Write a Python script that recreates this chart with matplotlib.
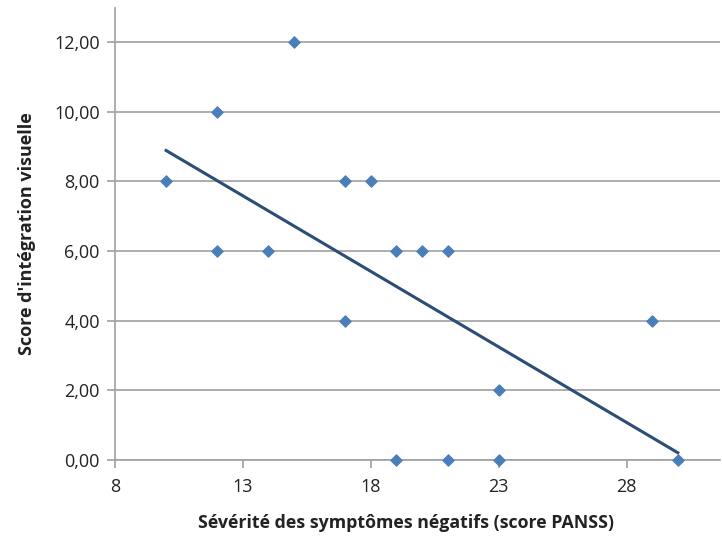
import numpy as np
import matplotlib
matplotlib.use("Agg")
import matplotlib.pyplot as plt
from matplotlib.ticker import FuncFormatter

plt.rcParams['font.family'] = ['Open Sans', 'DejaVu Sans']

x_vals = [10, 12, 12, 14, 15, 17, 17, 18, 19, 20, 21, 19, 21, 23, 23, 29, 30]
y_vals = [8, 10, 6, 6, 12, 8, 4, 8, 6, 6, 6, 0, 0, 0, 2, 4, 0]
x_ticks = [8, 13, 18, 23, 28]
y_ticks = [0, 2, 4, 6, 8, 10, 12]

fig = plt.figure(figsize=(7.22, 5.43), dpi=100)
ax = fig.add_axes([115/722, 1 - 460/543, (720-115)/722, (460-8)/543])

ax.set_xlim(8, 31.65)
ax.set_ylim(0, 12.98)
ax.set_yticks(y_ticks)
ax.set_xticks(x_ticks)
ax.yaxis.set_major_formatter(FuncFormatter(lambda v, p: f"{v:.2f}".replace('.', ',')))
ax.grid(axis='y', color='#a0a0a0', linewidth=1.2, zorder=0)
for s in ['top', 'right']:
    ax.spines[s].set_visible(False)
for s in ['left', 'bottom']:
    ax.spines[s].set_color('#a0a0a0')
    ax.spines[s].set_linewidth(1.2)
ax.tick_params(axis='both', colors='#a0a0a0', length=6, width=1.2, labelcolor='#222222', labelsize=13)
ax.tick_params(axis='y', pad=5)
ax.tick_params(axis='x', pad=7)

ax.scatter(x_vals, y_vals, marker='D', s=32, color='#4a7ebb', zorder=3, clip_on=False)
coef = np.polyfit(x_vals, y_vals, 1)
xl = np.array([min(x_vals), max(x_vals)])
ax.plot(xl, np.polyval(coef, xl), color='#2c4d75', linewidth=2.2, zorder=4)

ax.set_xlabel("Sévérité des symptômes négatifs (score PANSS)", fontsize=12.8, fontweight='bold', color='#222222')
ax.xaxis.set_label_coords((406 - 115) / 605, -(523 - 460) / 452, transform=ax.transAxes)
ax.xaxis.label.set_va('center')
ax.set_ylabel("Score d'intégration visuelle", fontsize=13, fontweight='bold', color='#222222', labelpad=13)

fig.savefig("out.png", dpi=100)
